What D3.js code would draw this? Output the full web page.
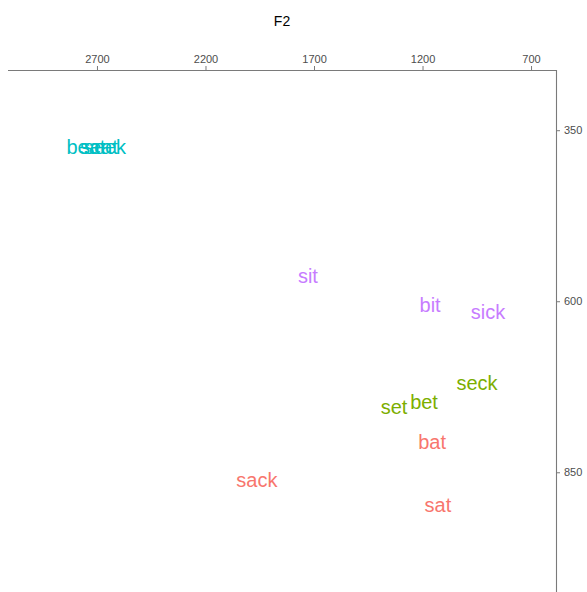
<!DOCTYPE html>
<html>
<head>
<meta charset="utf-8">
<script src="https://cdn.jsdelivr.net/npm/d3@7"></script>
<style>
  html, body { margin: 0; padding: 0; background: #fff; }
  svg { display: block; font-family: "Liberation Sans", Arial, sans-serif; }
</style>
</head>
<body>
<svg id="chart" width="587" height="592"></svg>
<script>
// Vowel formant plot: F2 (reversed, top) against F1 (reversed, right)
const words  = ["beat", "seat", "seek", "sit", "bit", "sick", "seck", "bet", "set", "bat", "sack", "sat"];
const vowels = ["i", "i", "i", "ɪ", "ɪ", "ɪ", "ɛ", "ɛ", "ɛ", "æ", "æ", "æ"];
const f2     = [2751, 2691, 2663, 1728, 1165, 898, 949, 1193, 1331, 1156, 1963, 1129];
const f1     = [375, 375, 375, 563, 606, 615, 720, 748, 755, 806, 862, 898];

const vowelGroups = ["æ", "ɛ", "i", "ɪ"];
const vowelColors = ["#F8766D", "#7CAE00", "#00BFC4", "#C77CFF"];

const f2Ticks = [2700, 2200, 1700, 1200, 700];
const f1Ticks = [350, 600, 850];

const svg = d3.select("#chart");
const plot = { left: 8, right: 556, top: 70, bottom: 592 };

const x = d3.scaleLinear().domain([3110, 585]).range([plot.left, plot.right]);
const y = d3.scaleLinear().domain([262, 1025]).range([plot.top, plot.bottom]);
const color = d3.scaleOrdinal().domain(vowelGroups).range(vowelColors);

// Top axis (F2)
const xAxis = svg.append("g")
  .attr("transform", `translate(0,${plot.top})`)
  .call(d3.axisTop(x).tickValues(f2Ticks).tickSize(4).tickPadding(3).tickFormat(d3.format("d")));
xAxis.select(".domain").attr("d", `M${plot.left},0.5H${plot.right}`).attr("stroke", "#7a7a7a").attr("stroke-width", 1.1);
xAxis.selectAll(".tick line").attr("stroke", "#7a7a7a");
xAxis.selectAll(".tick text").attr("fill", "#4d4d4d").style("font-size", "11px");

// Right axis (F1)
const yAxis = svg.append("g")
  .attr("transform", `translate(${plot.right},0)`)
  .call(d3.axisRight(y).tickValues(f1Ticks).tickSize(4).tickPadding(4).tickFormat(d3.format("d")));
yAxis.select(".domain").attr("d", `M0.5,${plot.top}V${plot.bottom}`).attr("stroke", "#7a7a7a").attr("stroke-width", 1.1);
yAxis.selectAll(".tick line").attr("stroke", "#7a7a7a");
yAxis.selectAll(".tick text").attr("fill", "#4d4d4d").style("font-size", "11px");

// Axis title
svg.append("text")
  .attr("x", (plot.left + plot.right) / 2)
  .attr("y", 26)
  .attr("text-anchor", "middle")
  .attr("fill", "#000")
  .style("font-size", "14px")
  .text("F2");

// Word labels
svg.append("g").selectAll("text")
  .data(words.map((w, i) => ({ w, v: vowels[i], f2: f2[i], f1: f1[i] })))
  .join("text")
  .attr("x", d => x(d.f2))
  .attr("y", d => y(d.f1))
  .attr("dy", "0.35em")
  .attr("text-anchor", "middle")
  .attr("fill", d => color(d.v))
  .style("font-size", "20px")
  .text(d => d.w);
</script>
</body>
</html>
